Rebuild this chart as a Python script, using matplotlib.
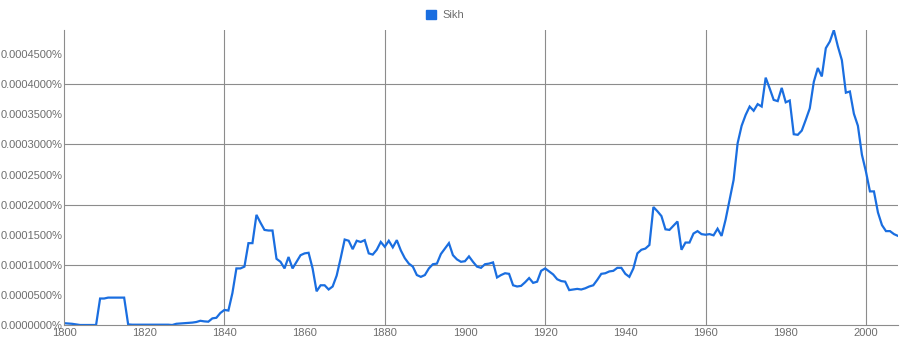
import matplotlib.pyplot as plt
from matplotlib.patches import Patch
from matplotlib.ticker import FuncFormatter, MultipleLocator

plt.rcParams['font.family'] = ['Liberation Sans', 'DejaVu Sans']

years = list(range(1800, 2009))
sikh = [
    # 1800-1809
    0.000003, 0.0000025, 0.000002, 0.000001, 0.0, 0.0, 0.0, 0.0, 0.0, 0.000044,
    # 1810-1819
    0.000044, 0.0000455, 0.0000455, 0.0000455, 0.0000455, 0.0000455, 0.000001, 0.0000005, 0.0000005, 0.0000005,
    # 1820-1829
    0.0000005, 0.0000005, 0.0000005, 0.0000005, 0.0000005, 0.0000005, 0.0000005, 0.0, 0.000002, 0.0000025,
    # 1830-1839
    0.000003, 0.0000035, 0.000004, 0.000005, 0.000007, 0.000006, 0.0000055, 0.000011, 0.000012, 0.00002,
    # 1840-1849
    0.000025, 0.000024, 0.000053, 0.000094, 0.000094, 0.000097, 0.000136, 0.000136, 0.000183, 0.00017,
    # 1850-1859
    0.000158, 0.000157, 0.000157, 0.00011, 0.000105, 0.000094, 0.000113, 0.000094, 0.000105, 0.000116,
    # 1860-1869
    0.000119, 0.00012, 0.000094, 0.000056, 0.000066, 0.000066, 0.000059, 0.000064, 0.000082, 0.000111,
    # 1870-1879
    0.000142, 0.00014, 0.000126, 0.00014, 0.000138, 0.000141, 0.000119, 0.000117, 0.000125, 0.000138,
    # 1880-1889
    0.00013, 0.00014, 0.000129, 0.000141, 0.000124, 0.000111, 0.000102, 0.000097, 0.000083, 0.00008,
    # 1890-1899
    0.000083, 0.000094, 0.000101, 0.000102, 0.000118, 0.000127, 0.000136, 0.000116, 0.000109, 0.000105,
    # 1900-1909
    0.000106, 0.000114, 0.000105, 0.000097, 0.000095, 0.000101, 0.000102, 0.000104, 0.000079, 0.000083,
    # 1910-1919
    0.000086, 0.000085, 0.000066, 0.000064, 0.000065, 0.000071, 0.000078, 0.00007, 0.000072, 0.00009,
    # 1920-1929
    0.000094, 0.000089, 0.000084, 0.000076, 0.000073, 0.000072, 0.000058, 0.000059, 0.00006, 0.000059,
    # 1930-1939
    0.000061, 0.000064, 0.000066, 0.000075, 0.000085, 0.000086, 0.000089, 0.00009, 0.000095, 0.000095,
    # 1940-1949
    0.000085, 0.00008, 0.000094, 0.000119, 0.000125, 0.000127, 0.000133, 0.000196, 0.000189, 0.000181,
    # 1950-1959
    0.000159, 0.000158, 0.000165, 0.000172, 0.000125, 0.000137, 0.000137, 0.000152, 0.000156, 0.000151,
    # 1960-1969
    0.00015, 0.000151, 0.000149, 0.00016, 0.000148, 0.000175, 0.000208, 0.000241, 0.000302, 0.000331,
    # 1970-1979
    0.000349, 0.000363, 0.000356, 0.000367, 0.000363, 0.000411, 0.000393, 0.000374, 0.000372, 0.000394,
    # 1980-1989
    0.00037, 0.000373, 0.000317, 0.000316, 0.000323, 0.000341, 0.00036, 0.000404, 0.000427, 0.000413,
    # 1990-1999
    0.00046, 0.000471, 0.00049, 0.000463, 0.00044, 0.000386, 0.000388, 0.000351, 0.000331, 0.000283,
    # 2000-2008
    0.000255, 0.000222, 0.000222, 0.000187, 0.000166, 0.000156, 0.000156, 0.000151, 0.000148,
]

blue = '#1a6ee0'
grid = '#8c8c8c'
label_color = '#6e6e6e'

fig = plt.figure(figsize=(9.09, 3.44), dpi=100)
ax = fig.add_axes([64 / 909, 19 / 344, 834 / 909, 295.5 / 344])

ax.plot(years, sikh, color=blue, lw=1.6, solid_joinstyle='miter')

ax.set_xlim(1800, 2008)
ax.set_ylim(0, 0.000491)

# gridlines
for y in [0.0001, 0.0002, 0.0003, 0.0004]:
    ax.axhline(y, color=grid, lw=0.8, zorder=0)
for x in [1840, 1880, 1920, 1960, 2000]:
    ax.axvline(x, color=grid, lw=0.8, zorder=0)

for side in ['top', 'right']:
    ax.spines[side].set_visible(False)
for side in ['left', 'bottom']:
    ax.spines[side].set_color(grid)
    ax.spines[side].set_linewidth(0.8)

ax.yaxis.set_major_locator(MultipleLocator(0.00005))
ax.yaxis.set_major_formatter(FuncFormatter(lambda v, p: '%.7f%%' % v))
ax.xaxis.set_major_locator(MultipleLocator(20))
ax.tick_params(axis='both', length=0, labelsize=8, labelcolor=label_color)
ax.tick_params(axis='y', pad=1)
ax.tick_params(axis='x', pad=2)

fig.legend(handles=[Patch(color=blue, label='Sikh')], loc='upper center',
           bbox_to_anchor=(0.49, 1.0), frameon=False, fontsize=8,
           handlelength=0.9, handleheight=0.9, handletextpad=0.6,
           labelcolor=label_color)

fig.savefig('out.png', dpi=100)
